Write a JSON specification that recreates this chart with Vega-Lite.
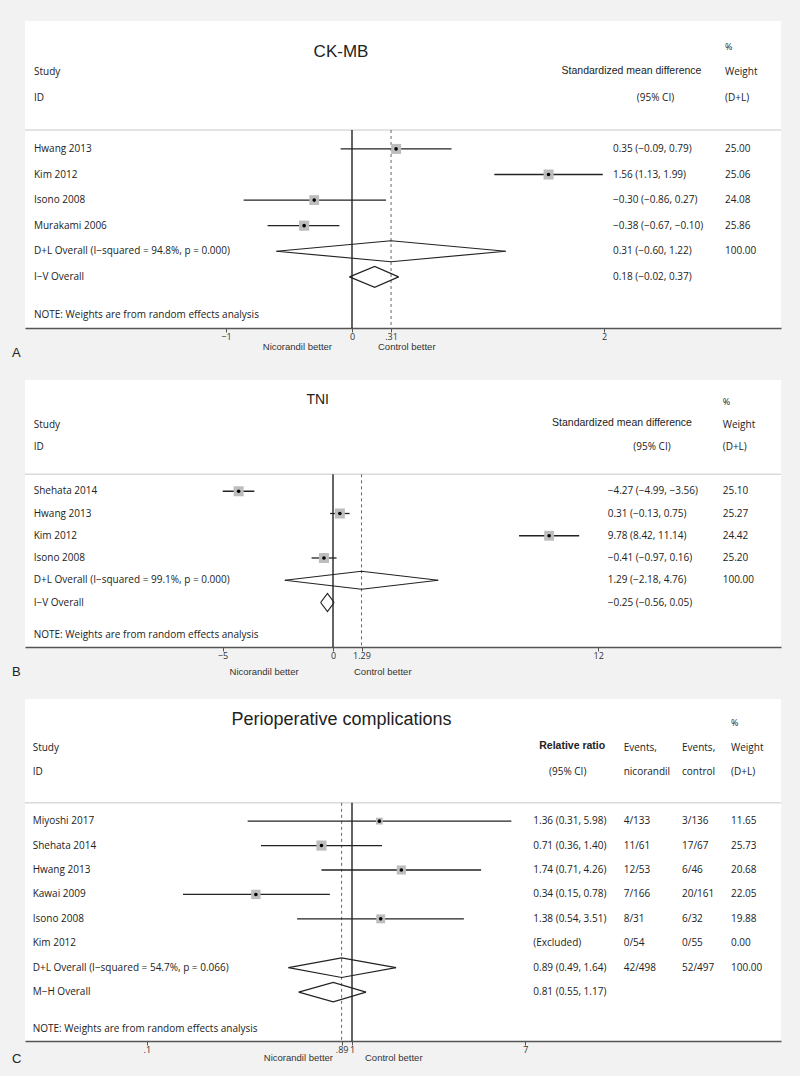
{
"$schema": "https://vega.github.io/schema/vega-lite/v6.json",
"background": "#f2f2f2",
"padding": {"left": 11, "top": 21, "right": 20, "bottom": 10},
"bounds": "flush",
"spacing": 52,
"config": {
  "view": {"fill": "white", "stroke": null},
  "text": {"font": "Open Sans", "fontSize": 10, "color": "#222", "align": "left", "baseline": "middle"},
  "axis": {"domainColor": "#555", "domainWidth": 1.5, "tickColor": "#555", "tickSize": 4, "tickWidth": 1, "labelFont": "Open Sans", "labelFontSize": 9, "labelColor": "#333", "labelPadding": 0, "labelOverlap": false, "labelFlush": false, "labelBound": false, "grid": false}
},
"datasets": {
  "one": [{}],
  "ckmb": [
    {"study": "Hwang 2013", "row": 1, "kind": "study", "est": 0.35, "lo": -0.09, "hi": 0.79, "ci": "0.35 (−0.09, 0.79)", "weight": 25.00},
    {"study": "Kim 2012", "row": 2, "kind": "study", "est": 1.56, "lo": 1.13, "hi": 1.99, "ci": "1.56 (1.13, 1.99)", "weight": 25.06},
    {"study": "Isono 2008", "row": 3, "kind": "study", "est": -0.30, "lo": -0.86, "hi": 0.27, "ci": "−0.30 (−0.86, 0.27)", "weight": 24.08},
    {"study": "Murakami 2006", "row": 4, "kind": "study", "est": -0.38, "lo": -0.67, "hi": -0.10, "ci": "−0.38 (−0.67, −0.10)", "weight": 25.86},
    {"study": "D+L Overall  (I−squared = 94.8%, p = 0.000)", "row": 5, "kind": "overall", "est": 0.31, "lo": -0.60, "hi": 1.22, "ci": "0.31 (−0.60, 1.22)", "weight": 100.00},
    {"study": "I−V Overall", "row": 6, "kind": "overall", "est": 0.18, "lo": -0.02, "hi": 0.37, "ci": "0.18 (−0.02, 0.37)", "weight": null}
  ],
  "tni": [
    {"study": "Shehata 2014", "row": 1, "kind": "study", "est": -4.27, "lo": -4.99, "hi": -3.56, "ci": "−4.27 (−4.99, −3.56)", "weight": 25.10},
    {"study": "Hwang 2013", "row": 2, "kind": "study", "est": 0.31, "lo": -0.13, "hi": 0.75, "ci": "0.31 (−0.13, 0.75)", "weight": 25.27},
    {"study": "Kim 2012", "row": 3, "kind": "study", "est": 9.78, "lo": 8.42, "hi": 11.14, "ci": "9.78 (8.42, 11.14)", "weight": 24.42},
    {"study": "Isono 2008", "row": 4, "kind": "study", "est": -0.41, "lo": -0.97, "hi": 0.16, "ci": "−0.41 (−0.97, 0.16)", "weight": 25.20},
    {"study": "D+L Overall  (I−squared = 99.1%, p = 0.000)", "row": 5, "kind": "overall", "est": 1.29, "lo": -2.18, "hi": 4.76, "ci": "1.29 (−2.18, 4.76)", "weight": 100.00},
    {"study": "I−V Overall", "row": 6, "kind": "overall", "est": -0.25, "lo": -0.56, "hi": 0.05, "ci": "−0.25 (−0.56, 0.05)", "weight": null}
  ],
  "periop": [
    {"study": "Miyoshi 2017", "row": 1, "kind": "study", "est": 1.36, "lo": 0.31, "hi": 5.98, "ci": "1.36 (0.31, 5.98)", "evn": "4/133", "evc": "3/136", "weight": 11.65},
    {"study": "Shehata 2014", "row": 2, "kind": "study", "est": 0.71, "lo": 0.36, "hi": 1.40, "ci": "0.71 (0.36, 1.40)", "evn": "11/61", "evc": "17/67", "weight": 25.73},
    {"study": "Hwang 2013", "row": 3, "kind": "study", "est": 1.74, "lo": 0.71, "hi": 4.26, "ci": "1.74 (0.71, 4.26)", "evn": "12/53", "evc": "6/46", "weight": 20.68},
    {"study": "Kawai 2009", "row": 4, "kind": "study", "est": 0.34, "lo": 0.15, "hi": 0.78, "ci": "0.34 (0.15, 0.78)", "evn": "7/166", "evc": "20/161", "weight": 22.05},
    {"study": "Isono 2008", "row": 5, "kind": "study", "est": 1.38, "lo": 0.54, "hi": 3.51, "ci": "1.38 (0.54, 3.51)", "evn": "8/31", "evc": "6/32", "weight": 19.88},
    {"study": "Kim 2012", "row": 6, "kind": "excluded", "est": null, "lo": null, "hi": null, "ci": "(Excluded)", "evn": "0/54", "evc": "0/55", "weight": 0},
    {"study": "D+L Overall  (I−squared = 54.7%, p = 0.066)", "row": 7, "kind": "overall", "est": 0.89, "lo": 0.49, "hi": 1.64, "ci": "0.89 (0.49, 1.64)", "evn": "42/498", "evc": "52/497", "weight": 100.00},
    {"study": "M−H Overall", "row": 8, "kind": "overall", "est": 0.81, "lo": 0.55, "hi": 1.17, "ci": "0.81 (0.55, 1.17)", "evn": null, "evc": null, "weight": null}
  ]
},
"vconcat": [
{
  "width": 756, "height": 307, "data": {"name": "one"},
  "layer": [
    {"mark": {"type": "rule", "color": "#dadada", "strokeWidth": 1.5},
     "encoding": {"y": {"datum": 0.26, "type": "quantitative", "scale": {"domain": [-4, 8], "reverse": true, "nice": false, "zero": false}, "axis": null}}},
    {"mark": {"type": "rule", "color": "#111", "strokeWidth": 1.3},
     "encoding": {"x": {"datum": 0, "type": "quantitative", "title": null, "scale": {"domain": [-2.5952, 3.4048], "nice": false, "zero": false}, "axis": {"values": [-1, 0, 0.31, 2], "format": ".3~g", "labelExpr": "replace(datum.label, '0.', '.')", "title": null}},
       "y": {"datum": 0.26, "type": "quantitative", "axis": null}, "y2": {"datum": 8}}},
    {"mark": {"type": "rule", "color": "#666", "strokeWidth": 1, "strokeDash": [3, 3]},
     "encoding": {"x": {"datum": 0.31, "type": "quantitative", "title": null}, "y": {"datum": 0.26, "type": "quantitative", "axis": null}, "y2": {"datum": 8}}},
    {"data": {"name": "ckmb"}, "transform": [{"filter": "datum.kind === 'study'"}],
     "mark": {"type": "rule", "color": "#222", "strokeWidth": 1.3},
     "encoding": {"x": {"field": "lo", "type": "quantitative", "title": null}, "x2": {"field": "hi"}, "y": {"field": "row", "type": "quantitative", "axis": null}}},
    {"data": {"name": "ckmb"}, "transform": [{"filter": "datum.kind === 'study'"}],
     "mark": {"type": "square", "color": "#bdbdbd", "opacity": 1},
     "encoding": {"x": {"field": "est", "type": "quantitative", "title": null}, "y": {"field": "row", "type": "quantitative", "axis": null}, "size": {"field": "weight", "type": "quantitative", "scale": {"type": "linear", "domain": [0, 100], "range": [0, 400]}, "legend": null}}},
    {"data": {"name": "ckmb"}, "transform": [{"filter": "datum.kind === 'study'"}],
     "mark": {"type": "circle", "color": "#000", "size": 13, "opacity": 1},
     "encoding": {"x": {"field": "est", "type": "quantitative", "title": null}, "y": {"field": "row", "type": "quantitative", "axis": null}}},
    {"data": {"name": "ckmb"}, "transform": [{"filter": "datum.kind === 'overall'"}, {"fold": ["lo", "est", "hi"]}],
     "mark": {"type": "line", "color": "#222", "strokeWidth": 1.2, "yOffset": {"expr": "datum.key === 'est' ? -10.5 : 0"}},
     "encoding": {"x": {"field": "value", "type": "quantitative", "title": null}, "y": {"field": "row", "type": "quantitative", "axis": null}, "detail": {"field": "study"}}},
    {"data": {"name": "ckmb"}, "transform": [{"filter": "datum.kind === 'overall'"}, {"fold": ["lo", "est", "hi"]}],
     "mark": {"type": "line", "color": "#222", "strokeWidth": 1.2, "yOffset": {"expr": "datum.key === 'est' ? 10.5 : 0"}},
     "encoding": {"x": {"field": "value", "type": "quantitative", "title": null}, "y": {"field": "row", "type": "quantitative", "axis": null}, "detail": {"field": "study"}}},
    {"data": {"name": "ckmb"}, "mark": {"type": "text"},
     "encoding": {"x": {"datum": -2.5238, "title": null}, "y": {"field": "row", "type": "quantitative", "axis": null}, "text": {"field": "study"}}},
    {"data": {"name": "ckmb"}, "mark": {"type": "text"},
     "encoding": {"x": {"datum": 2.0714, "title": null}, "y": {"field": "row", "type": "quantitative", "axis": null}, "text": {"field": "ci"}}},
    {"data": {"name": "ckmb"}, "transform": [{"filter": "isValid(datum.weight)"}], "mark": {"type": "text"},
     "encoding": {"x": {"datum": 2.9603, "title": null}, "y": {"field": "row", "type": "quantitative", "axis": null}, "text": {"field": "weight", "type": "quantitative", "format": ".2f"}}},
    {"mark": {"type": "text", "text": "NOTE: Weights are from random effects analysis"},
     "encoding": {"x": {"datum": -2.5238, "title": null}, "y": {"datum": 7.5, "axis": null}}},
    {"mark": {"type": "text", "text": "CK-MB", "align": "center", "font": "Liberation Sans", "fontSize": 17},
     "encoding": {"x": {"datum": -0.0873, "title": null}, "y": {"datum": -2.79, "axis": null}}},
    {"mark": {"type": "text", "text": "%", "fontSize": 9}, "encoding": {"x": {"datum": 2.9603, "title": null}, "y": {"datum": -3, "axis": null}}},
    {"mark": {"type": "text", "text": "Study"}, "encoding": {"x": {"datum": -2.5238, "title": null}, "y": {"datum": -2, "axis": null}}},
    {"mark": {"type": "text", "text": "ID"}, "encoding": {"x": {"datum": -2.5238, "title": null}, "y": {"datum": -1, "axis": null}}},
    {"mark": {"type": "text", "text": "Standardized mean difference", "align": "center", "font": "Liberation Sans", "fontSize": 10.5},
     "encoding": {"x": {"datum": 2.2183, "title": null}, "y": {"datum": -2.03, "axis": null}}},
    {"mark": {"type": "text", "text": "(95% CI)", "align": "center"}, "encoding": {"x": {"datum": 2.4087, "title": null}, "y": {"datum": -1, "axis": null}}},
    {"mark": {"type": "text", "text": "Weight"}, "encoding": {"x": {"datum": 2.9603, "title": null}, "y": {"datum": -2, "axis": null}}},
    {"mark": {"type": "text", "text": "(D+L)"}, "encoding": {"x": {"datum": 2.9603, "title": null}, "y": {"datum": -1, "axis": null}}},
    {"mark": {"type": "text", "text": "Nicorandil better", "align": "right", "font": "Liberation Sans", "fontSize": 9.5, "color": "#333"},
     "encoding": {"x": {"datum": -0.1587, "title": null}, "y": {"datum": 8.74, "axis": null}}},
    {"mark": {"type": "text", "text": "Control better", "font": "Liberation Sans", "fontSize": 9.5, "color": "#333"},
     "encoding": {"x": {"datum": 0.2063, "title": null}, "y": {"datum": 8.74, "axis": null}}},
    {"mark": {"type": "text", "text": "A", "font": "Liberation Sans", "fontSize": 13},
     "encoding": {"x": {"datum": -2.6984, "title": null}, "y": {"datum": 8.97, "axis": null}}}
  ]
},
{
  "width": 756, "height": 267, "data": {"name": "one"},
  "layer": [
    {"mark": {"type": "rule", "color": "#dadada", "strokeWidth": 1.5},
     "encoding": {"y": {"datum": 0.24, "type": "quantitative", "scale": {"domain": [-4, 8], "reverse": true, "nice": false, "zero": false}, "axis": null}}},
    {"mark": {"type": "rule", "color": "#111", "strokeWidth": 1.3},
     "encoding": {"x": {"datum": 0, "type": "quantitative", "title": null, "scale": {"domain": [-13.937, 20.271], "nice": false, "zero": false}, "axis": {"values": [-5, 0, 1.29, 12], "format": ".3~g", "labelExpr": "replace(datum.label, '0.', '.')", "title": null}},
       "y": {"datum": 0.24, "type": "quantitative", "axis": null}, "y2": {"datum": 8}}},
    {"mark": {"type": "rule", "color": "#666", "strokeWidth": 1, "strokeDash": [3, 3]},
     "encoding": {"x": {"datum": 1.29, "type": "quantitative", "title": null}, "y": {"datum": 0.24, "type": "quantitative", "axis": null}, "y2": {"datum": 8}}},
    {"data": {"name": "tni"}, "transform": [{"filter": "datum.kind === 'study'"}],
     "mark": {"type": "rule", "color": "#222", "strokeWidth": 1.3},
     "encoding": {"x": {"field": "lo", "type": "quantitative", "title": null}, "x2": {"field": "hi"}, "y": {"field": "row", "type": "quantitative", "axis": null}}},
    {"data": {"name": "tni"}, "transform": [{"filter": "datum.kind === 'study'"}],
     "mark": {"type": "square", "color": "#bdbdbd", "opacity": 1},
     "encoding": {"x": {"field": "est", "type": "quantitative", "title": null}, "y": {"field": "row", "type": "quantitative", "axis": null}, "size": {"field": "weight", "type": "quantitative", "scale": {"type": "linear", "domain": [0, 100], "range": [0, 400]}, "legend": null}}},
    {"data": {"name": "tni"}, "transform": [{"filter": "datum.kind === 'study'"}],
     "mark": {"type": "circle", "color": "#000", "size": 13, "opacity": 1},
     "encoding": {"x": {"field": "est", "type": "quantitative", "title": null}, "y": {"field": "row", "type": "quantitative", "axis": null}}},
    {"data": {"name": "tni"}, "transform": [{"filter": "datum.kind === 'overall'"}, {"fold": ["lo", "est", "hi"]}],
     "mark": {"type": "line", "color": "#222", "strokeWidth": 1.2, "yOffset": {"expr": "datum.key === 'est' ? -9 : 0"}},
     "encoding": {"x": {"field": "value", "type": "quantitative", "title": null}, "y": {"field": "row", "type": "quantitative", "axis": null}, "detail": {"field": "study"}}},
    {"data": {"name": "tni"}, "transform": [{"filter": "datum.kind === 'overall'"}, {"fold": ["lo", "est", "hi"]}],
     "mark": {"type": "line", "color": "#222", "strokeWidth": 1.2, "yOffset": {"expr": "datum.key === 'est' ? 9 : 0"}},
     "encoding": {"x": {"field": "value", "type": "quantitative", "title": null}, "y": {"field": "row", "type": "quantitative", "axis": null}, "detail": {"field": "study"}}},
    {"data": {"name": "tni"}, "mark": {"type": "text"},
     "encoding": {"x": {"datum": -13.543, "title": null}, "y": {"field": "row", "type": "quantitative", "axis": null}, "text": {"field": "study"}}},
    {"data": {"name": "tni"}, "mark": {"type": "text"},
     "encoding": {"x": {"datum": 12.43, "title": null}, "y": {"field": "row", "type": "quantitative", "axis": null}, "text": {"field": "ci"}}},
    {"data": {"name": "tni"}, "transform": [{"filter": "isValid(datum.weight)"}], "mark": {"type": "text"},
     "encoding": {"x": {"datum": 17.633, "title": null}, "y": {"field": "row", "type": "quantitative", "axis": null}, "text": {"field": "weight", "type": "quantitative", "format": ".2f"}}},
    {"mark": {"type": "text", "text": "NOTE: Weights are from random effects analysis"},
     "encoding": {"x": {"datum": -13.543, "title": null}, "y": {"datum": 7.47, "axis": null}}},
    {"mark": {"type": "text", "text": "TNI", "align": "center", "font": "Liberation Sans", "fontSize": 14},
     "encoding": {"x": {"datum": -0.692, "title": null}, "y": {"datum": -3.09, "axis": null}}},
    {"mark": {"type": "text", "text": "%", "fontSize": 9}, "encoding": {"x": {"datum": 17.633, "title": null}, "y": {"datum": -3, "axis": null}}},
    {"mark": {"type": "text", "text": "Study"}, "encoding": {"x": {"datum": -13.543, "title": null}, "y": {"datum": -2, "axis": null}}},
    {"mark": {"type": "text", "text": "ID"}, "encoding": {"x": {"datum": -13.543, "title": null}, "y": {"datum": -1, "axis": null}}},
    {"mark": {"type": "text", "text": "Standardized mean difference", "align": "center", "font": "Liberation Sans", "fontSize": 10.5},
     "encoding": {"x": {"datum": 13.077, "title": null}, "y": {"datum": -2.06, "axis": null}}},
    {"mark": {"type": "text", "text": "(95% CI)", "align": "center"}, "encoding": {"x": {"datum": 14.434, "title": null}, "y": {"datum": -1, "axis": null}}},
    {"mark": {"type": "text", "text": "Weight"}, "encoding": {"x": {"datum": 17.633, "title": null}, "y": {"datum": -2, "axis": null}}},
    {"mark": {"type": "text", "text": "(D+L)"}, "encoding": {"x": {"datum": 17.633, "title": null}, "y": {"datum": -1, "axis": null}}},
    {"mark": {"type": "text", "text": "Nicorandil better", "align": "right", "font": "Liberation Sans", "fontSize": 9.5, "color": "#333"},
     "encoding": {"x": {"datum": -1.552, "title": null}, "y": {"datum": 9.13, "axis": null}}},
    {"mark": {"type": "text", "text": "Control better", "font": "Liberation Sans", "fontSize": 9.5, "color": "#333"},
     "encoding": {"x": {"datum": 0.95, "title": null}, "y": {"datum": 9.13, "axis": null}}},
    {"mark": {"type": "text", "text": "B", "font": "Liberation Sans", "fontSize": 13},
     "encoding": {"x": {"datum": -14.525, "title": null}, "y": {"datum": 9.14, "axis": null}}}
  ]
},
{
  "width": 756, "height": 342, "data": {"name": "one"},
  "layer": [
    {"mark": {"type": "rule", "color": "#dadada", "strokeWidth": 1.5},
     "encoding": {"y": {"datum": 0.25, "type": "quantitative", "scale": {"domain": [-4, 10], "reverse": true, "nice": false, "zero": false}, "axis": null}}},
    {"mark": {"type": "rule", "color": "#111", "strokeWidth": 1.3},
     "encoding": {"x": {"datum": 1, "type": "quantitative", "title": null, "scale": {"type": "log", "domain": [0.025478, 123.32], "nice": false}, "axis": {"values": [0.1, 0.89, 1, 7], "format": ".3~g", "labelExpr": "replace(datum.label, '0.', '.')", "title": null}},
       "y": {"datum": 0.25, "type": "quantitative", "axis": null}, "y2": {"datum": 10}}},
    {"mark": {"type": "rule", "color": "#666", "strokeWidth": 1, "strokeDash": [3, 3]},
     "encoding": {"x": {"datum": 0.89, "type": "quantitative", "title": null}, "y": {"datum": 0.25, "type": "quantitative", "axis": null}, "y2": {"datum": 10}}},
    {"data": {"name": "periop"}, "transform": [{"filter": "datum.kind === 'study'"}],
     "mark": {"type": "rule", "color": "#222", "strokeWidth": 1.3},
     "encoding": {"x": {"field": "lo", "type": "quantitative", "title": null}, "x2": {"field": "hi"}, "y": {"field": "row", "type": "quantitative", "axis": null}}},
    {"data": {"name": "periop"}, "transform": [{"filter": "datum.kind === 'study'"}],
     "mark": {"type": "square", "color": "#bdbdbd", "opacity": 1},
     "encoding": {"x": {"field": "est", "type": "quantitative", "title": null}, "y": {"field": "row", "type": "quantitative", "axis": null}, "size": {"field": "weight", "type": "quantitative", "scale": {"type": "linear", "domain": [0, 100], "range": [0, 400]}, "legend": null}}},
    {"data": {"name": "periop"}, "transform": [{"filter": "datum.kind === 'study'"}],
     "mark": {"type": "circle", "color": "#000", "size": 13, "opacity": 1},
     "encoding": {"x": {"field": "est", "type": "quantitative", "title": null}, "y": {"field": "row", "type": "quantitative", "axis": null}}},
    {"data": {"name": "periop"}, "transform": [{"filter": "datum.kind === 'overall'"}, {"fold": ["lo", "est", "hi"]}],
     "mark": {"type": "line", "color": "#222", "strokeWidth": 1.2, "yOffset": {"expr": "datum.key === 'est' ? -9.8 : 0"}},
     "encoding": {"x": {"field": "value", "type": "quantitative", "title": null}, "y": {"field": "row", "type": "quantitative", "axis": null}, "detail": {"field": "study"}}},
    {"data": {"name": "periop"}, "transform": [{"filter": "datum.kind === 'overall'"}, {"fold": ["lo", "est", "hi"]}],
     "mark": {"type": "line", "color": "#222", "strokeWidth": 1.2, "yOffset": {"expr": "datum.key === 'est' ? 9.8 : 0"}},
     "encoding": {"x": {"field": "value", "type": "quantitative", "title": null}, "y": {"field": "row", "type": "quantitative", "axis": null}, "detail": {"field": "study"}}},
    {"data": {"name": "periop"}, "mark": {"type": "text"},
     "encoding": {"x": {"datum": 0.02777, "title": null}, "y": {"field": "row", "type": "quantitative", "axis": null}, "text": {"field": "study"}}},
    {"data": {"name": "periop"}, "mark": {"type": "text"},
     "encoding": {"x": {"datum": 7.651, "title": null}, "y": {"field": "row", "type": "quantitative", "axis": null}, "text": {"field": "ci"}}},
    {"data": {"name": "periop"}, "transform": [{"filter": "isValid(datum.evn)"}], "mark": {"type": "text"},
     "encoding": {"x": {"datum": 21.104, "title": null}, "y": {"field": "row", "type": "quantitative", "axis": null}, "text": {"field": "evn"}}},
    {"data": {"name": "periop"}, "transform": [{"filter": "isValid(datum.evc)"}], "mark": {"type": "text"},
     "encoding": {"x": {"datum": 40.6, "title": null}, "y": {"field": "row", "type": "quantitative", "axis": null}, "text": {"field": "evc"}}},
    {"data": {"name": "periop"}, "transform": [{"filter": "isValid(datum.weight)"}], "mark": {"type": "text"},
     "encoding": {"x": {"datum": 70.36, "title": null}, "y": {"field": "row", "type": "quantitative", "axis": null}, "text": {"field": "weight", "type": "quantitative", "format": ".2f"}}},
    {"mark": {"type": "text", "text": "NOTE: Weights are from random effects analysis"},
     "encoding": {"x": {"datum": 0.02777, "title": null}, "y": {"datum": 9.51, "axis": null}}},
    {"mark": {"type": "text", "text": "Perioperative complications", "align": "center", "font": "Liberation Sans", "fontSize": 18},
     "encoding": {"x": {"datum": 0.8889, "title": null}, "y": {"datum": -3.16, "axis": null}}},
    {"mark": {"type": "text", "text": "%", "fontSize": 9}, "encoding": {"x": {"datum": 70.36, "title": null}, "y": {"datum": -3, "axis": null}}},
    {"mark": {"type": "text", "text": "Study"}, "encoding": {"x": {"datum": 0.02777, "title": null}, "y": {"datum": -2, "axis": null}}},
    {"mark": {"type": "text", "text": "ID"}, "encoding": {"x": {"datum": 0.02777, "title": null}, "y": {"datum": -1, "axis": null}}},
    {"mark": {"type": "text", "text": "Relative ratio", "align": "center", "font": "Liberation Sans", "fontSize": 10.5, "fontWeight": "bold"},
     "encoding": {"x": {"datum": 11.84, "title": null}, "y": {"datum": -2.07, "axis": null}}},
    {"mark": {"type": "text", "text": "(95% CI)", "align": "center"}, "encoding": {"x": {"datum": 11.256, "title": null}, "y": {"datum": -1, "axis": null}}},
    {"mark": {"type": "text", "text": "Events,"}, "encoding": {"x": {"datum": 21.104, "title": null}, "y": {"datum": -2, "axis": null}}},
    {"mark": {"type": "text", "text": "nicorandil"}, "encoding": {"x": {"datum": 21.104, "title": null}, "y": {"datum": -1, "axis": null}}},
    {"mark": {"type": "text", "text": "Events,"}, "encoding": {"x": {"datum": 40.6, "title": null}, "y": {"datum": -2, "axis": null}}},
    {"mark": {"type": "text", "text": "control"}, "encoding": {"x": {"datum": 40.6, "title": null}, "y": {"datum": -1, "axis": null}}},
    {"mark": {"type": "text", "text": "Weight"}, "encoding": {"x": {"datum": 70.36, "title": null}, "y": {"datum": -2, "axis": null}}},
    {"mark": {"type": "text", "text": "(D+L)"}, "encoding": {"x": {"datum": 70.36, "title": null}, "y": {"datum": -1, "axis": null}}},
    {"mark": {"type": "text", "text": "Nicorandil better", "align": "right", "font": "Liberation Sans", "fontSize": 9.5, "color": "#333"},
     "encoding": {"x": {"datum": 0.808, "title": null}, "y": {"datum": 10.69, "axis": null}}},
    {"mark": {"type": "text", "text": "Control better", "font": "Liberation Sans", "fontSize": 9.5, "color": "#333"},
     "encoding": {"x": {"datum": 1.1571, "title": null}, "y": {"datum": 10.69, "axis": null}}},
    {"mark": {"type": "text", "text": "C", "font": "Liberation Sans", "fontSize": 13},
     "encoding": {"x": {"datum": 0.02201, "title": null}, "y": {"datum": 10.74, "axis": null}}}
  ]
}
]
}
